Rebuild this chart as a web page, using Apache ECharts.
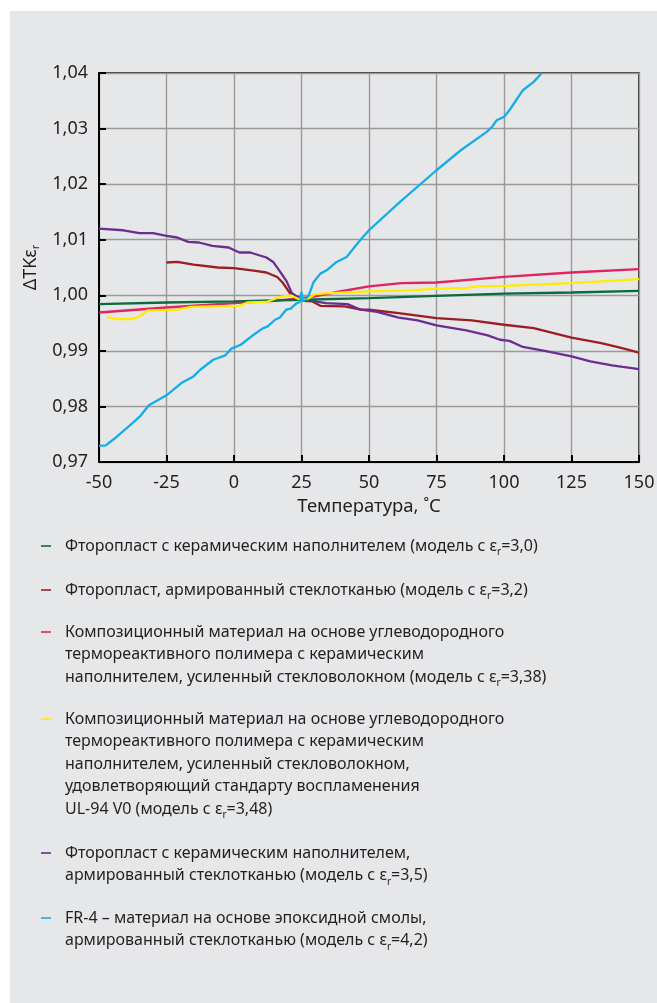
<!DOCTYPE html>
<html><head><meta charset="utf-8">
<script src="https://cdn.jsdelivr.net/npm/echarts@6/dist/echarts.min.js"></script>
<style>
html,body{margin:0;padding:0;background:#fff;}
#wrap{position:relative;width:657px;height:1003px;overflow:hidden;}
#panel{position:absolute;left:10px;top:11px;width:647px;height:992px;background:#e6e7e9;}
#c{position:absolute;left:0;top:0;width:657px;height:1003px;}
</style>
</head><body><div id="wrap"><div id="panel"></div><div id="c"></div></div>
<script>
// ---- data (temperature °C, ΔTKεr) ----
const xTicks = [-50, -25, 0, 25, 50, 75, 100, 125, 150];
const yTicks = [0.97, 0.98, 0.99, 1.00, 1.01, 1.02, 1.03, 1.04];

const ptfeCeramic30 = [[-50,0.9984],[-25,0.9987],[0,0.9989],[25,0.9992],[50,0.9995],[75,0.9999],[100,1.0003],[125,1.0005],[150,1.0008]];

const ptfeGlass32 = [[-25,1.0059],[-21,1.0060],[-15,1.0055],[-6,1.0050],[0,1.0049],[8,1.0044],[12,1.0041],[16,1.0033],[18,1.0023],[20.7,1.0004],[23,0.9995],[26,0.9990],[29,0.9989],[32,0.9981],[41,0.9980],[47,0.9974],[50,0.9974],[61,0.9968],[75,0.9959],[88,0.9955],[100,0.9947],[111,0.9941],[125,0.9924],[136,0.9914],[143,0.9906],[150,0.9897]];

const hydrocarbon338 = [[-50,0.9969],[-25,0.9978],[0,0.9986],[15,0.9990],[25,0.9995],[30,0.9998],[37,1.0005],[50,1.0016],[62,1.0022],[75,1.0023],[100,1.0033],[125,1.0041],[150,1.0047]];

const hydrocarbon348 = [[-47,0.9961],[-44,0.9957],[-38,0.9957],[-35,0.9962],[-32,0.9973],[-21,0.9974],[-16,0.9979],[2,0.9981],[5,0.9987],[12,0.9988],[17,0.9997],[21,1.0000],[24,0.9993],[27,0.9993],[30,1.0002],[35,1.0004],[50,1.0007],[65,1.0009],[75,1.0012],[86,1.0013],[90,1.0016],[100,1.0017],[125,1.0022],[150,1.0029]];

const ptfeCeramicGlass35 = [[-50,1.0120],[-41,1.0117],[-35,1.0112],[-30,1.0112],[-25,1.0107],[-21,1.0104],[-17,1.0096],[-13,1.0095],[-8,1.0089],[-2,1.0086],[2,1.0077],[6,1.0077],[12,1.0068],[14.5,1.0060],[17,1.0043],[19.5,1.0025],[21.4,1.0004],[23.2,0.9998],[28,0.9991],[34,0.9986],[42,0.9984],[47,0.9974],[53,0.9970],[61,0.9960],[68,0.9955],[75,0.9946],[86,0.9937],[94,0.9928],[98.5,0.9920],[102,0.9918],[107,0.9907],[116,0.9899],[125,0.9890],[132,0.9881],[140,0.9874],[144,0.9871],[150,0.9867]];

const fr4_42 = [[-50,0.9729],[-47.5,0.9730],[-43.5,0.9745],[-39,0.9764],[-35,0.9781],[-31.5,0.9802],[-25,0.9820],[-19.5,0.9842],[-15,0.9854],[-12.5,0.9866],[-7.7,0.9884],[-3.2,0.9892],[-1,0.9904],[2.5,0.9911],[7,0.9928],[10.5,0.9940],[12.5,0.9944],[15.2,0.9956],[17,0.9960],[19.3,0.9974],[21,0.9976],[23,0.9985],[24.4,0.9988],[25,1.0006],[25.5,0.9989],[27,0.9995],[28,1.0004],[29.5,1.0024],[32,1.0039],[34.3,1.0045],[38,1.0060],[41.7,1.0069],[46.7,1.0099],[50,1.0117],[61.5,1.0168],[75,1.0225],[84,1.0261],[93.6,1.0294],[95.4,1.0302],[97.3,1.0315],[100,1.0321],[102,1.0333],[107,1.0369],[111,1.0384],[114,1.0400]];

const seriesNames = [
  'Фторопласт с керамическим наполнителем (модель с ε{sub|r}=3,0)',
  'Фторопласт, армированный стеклотканью (модель с ε{sub|r}=3,2)',
  'Композиционный материал на основе углеводородного\nтермореактивного полимера с керамическим\nнаполнителем, усиленный стекловолокном (модель с ε{sub|r}=3,38)',
  'Композиционный материал на основе углеводородного\nтермореактивного полимера с керамическим\nнаполнителем, усиленный стекловолокном,\nудовлетворяющий стандарту воспламенения\nUL-94 V0 (модель с ε{sub|r}=3,48)',
  'Фторопласт с керамическим наполнителем,\nармированный стеклотканью (модель с ε{sub|r}=3,5)',
  'FR-4 – материал на основе эпоксидной смолы,\nармированный стеклотканью (модель с ε{sub|r}=4,2)'
];
const seriesData = [ptfeCeramic30, ptfeGlass32, hydrocarbon338, hydrocarbon348, ptfeCeramicGlass35, fr4_42];
const seriesColors = ['#0b6b3d', '#9c1d22', '#e2245d', '#ffec00', '#6a2d91', '#13aee8'];
const drawOrder = [1, 4, 2, 0, 3, 5];
const legendFirstLineY = [546, 590, 632, 719, 853, 918];

const FONT = '"Noto Sans", sans-serif';
const TEXT = '#231f20';
const LH = 22.5;

const chart = echarts.init(document.getElementById('c'), null, {renderer: 'canvas'});

const fmtY = v => v.toFixed(2).replace('.', ',');

const series = drawOrder.map(i => ({
  name: seriesNames[i],
  type: 'line',
  data: seriesData[i],
  showSymbol: false,
  symbol: 'none',
  lineStyle: {color: seriesColors[i], width: 2.3},
  itemStyle: {color: seriesColors[i]},
  z: 3 + drawOrder.indexOf(i),
  clip: true,
  animation: false
}));

const graphic = [];
seriesNames.forEach((nm, i) => {
  const cy = legendFirstLineY[i];
  graphic.push({
    type: 'line', silent: true,
    shape: {x1: 41, y1: cy, x2: 51, y2: cy},
    style: {stroke: seriesColors[i], lineWidth: 1.6}
  });
  graphic.push({
    type: 'text', silent: true, x: 65, y: cy - LH / 2,
    style: {
      text: nm, fill: TEXT, fontFamily: FONT, fontSize: 16, lineHeight: LH,
      verticalAlign: 'top', align: 'left',
      rich: {sub: {fontSize: 10, lineHeight: 11, verticalAlign: 'bottom', fill: TEXT, fontFamily: FONT}}
    }
  });
});

const option = {
  animation: false,
  textStyle: {fontFamily: FONT},
  grid: {left: 99, right: 18, top: 73, bottom: 541, show: true, borderColor: '#000', borderWidth: 1.5,
         backgroundColor: 'transparent', containLabel: false, outerBoundsMode: 'none'},
  xAxis: {
    type: 'value', min: xTicks[0], max: xTicks[xTicks.length - 1], interval: 25,
    name: 'Температура, ˚C', nameLocation: 'middle', nameGap: 35,
    nameTextStyle: {fontSize: 18.5, color: TEXT, fontFamily: FONT},
    axisLine: {show: true, onZero: false, lineStyle: {color: '#000', width: 2}},
    axisTick: {show: true, inside: true, length: 7, lineStyle: {color: '#000', width: 2}},
    axisLabel: {fontSize: 18, color: TEXT, margin: 12, fontFamily: FONT,
                formatter: v => String(v), showMinLabel: true, showMaxLabel: true},
    splitLine: {show: true, lineStyle: {color: '#9a9a9a', width: 1.4}}
  },
  yAxis: {
    type: 'value', min: yTicks[0], max: yTicks[yTicks.length - 1], interval: 0.01,
    name: 'ΔTKε{sub|r}', nameLocation: 'middle', nameRotate: 90, nameGap: 53,
    nameTextStyle: {fontSize: 18, color: TEXT, fontFamily: FONT, lineHeight: 22,
                    rich: {sub: {fontSize: 11, lineHeight: 12, verticalAlign: 'bottom', color: TEXT, fontFamily: FONT}}},
    axisLine: {show: true, onZero: false, lineStyle: {color: '#000', width: 2}},
    axisTick: {show: true, inside: true, length: 7, lineStyle: {color: '#000', width: 2}},
    axisLabel: {fontSize: 18, color: TEXT, margin: 11, fontFamily: FONT, formatter: fmtY,
                showMinLabel: true, showMaxLabel: true},
    splitLine: {show: true, lineStyle: {color: '#9a9a9a', width: 1.4}}
  },
  series: series,
  graphic: graphic
};
chart.setOption(option);
</script></body></html>
